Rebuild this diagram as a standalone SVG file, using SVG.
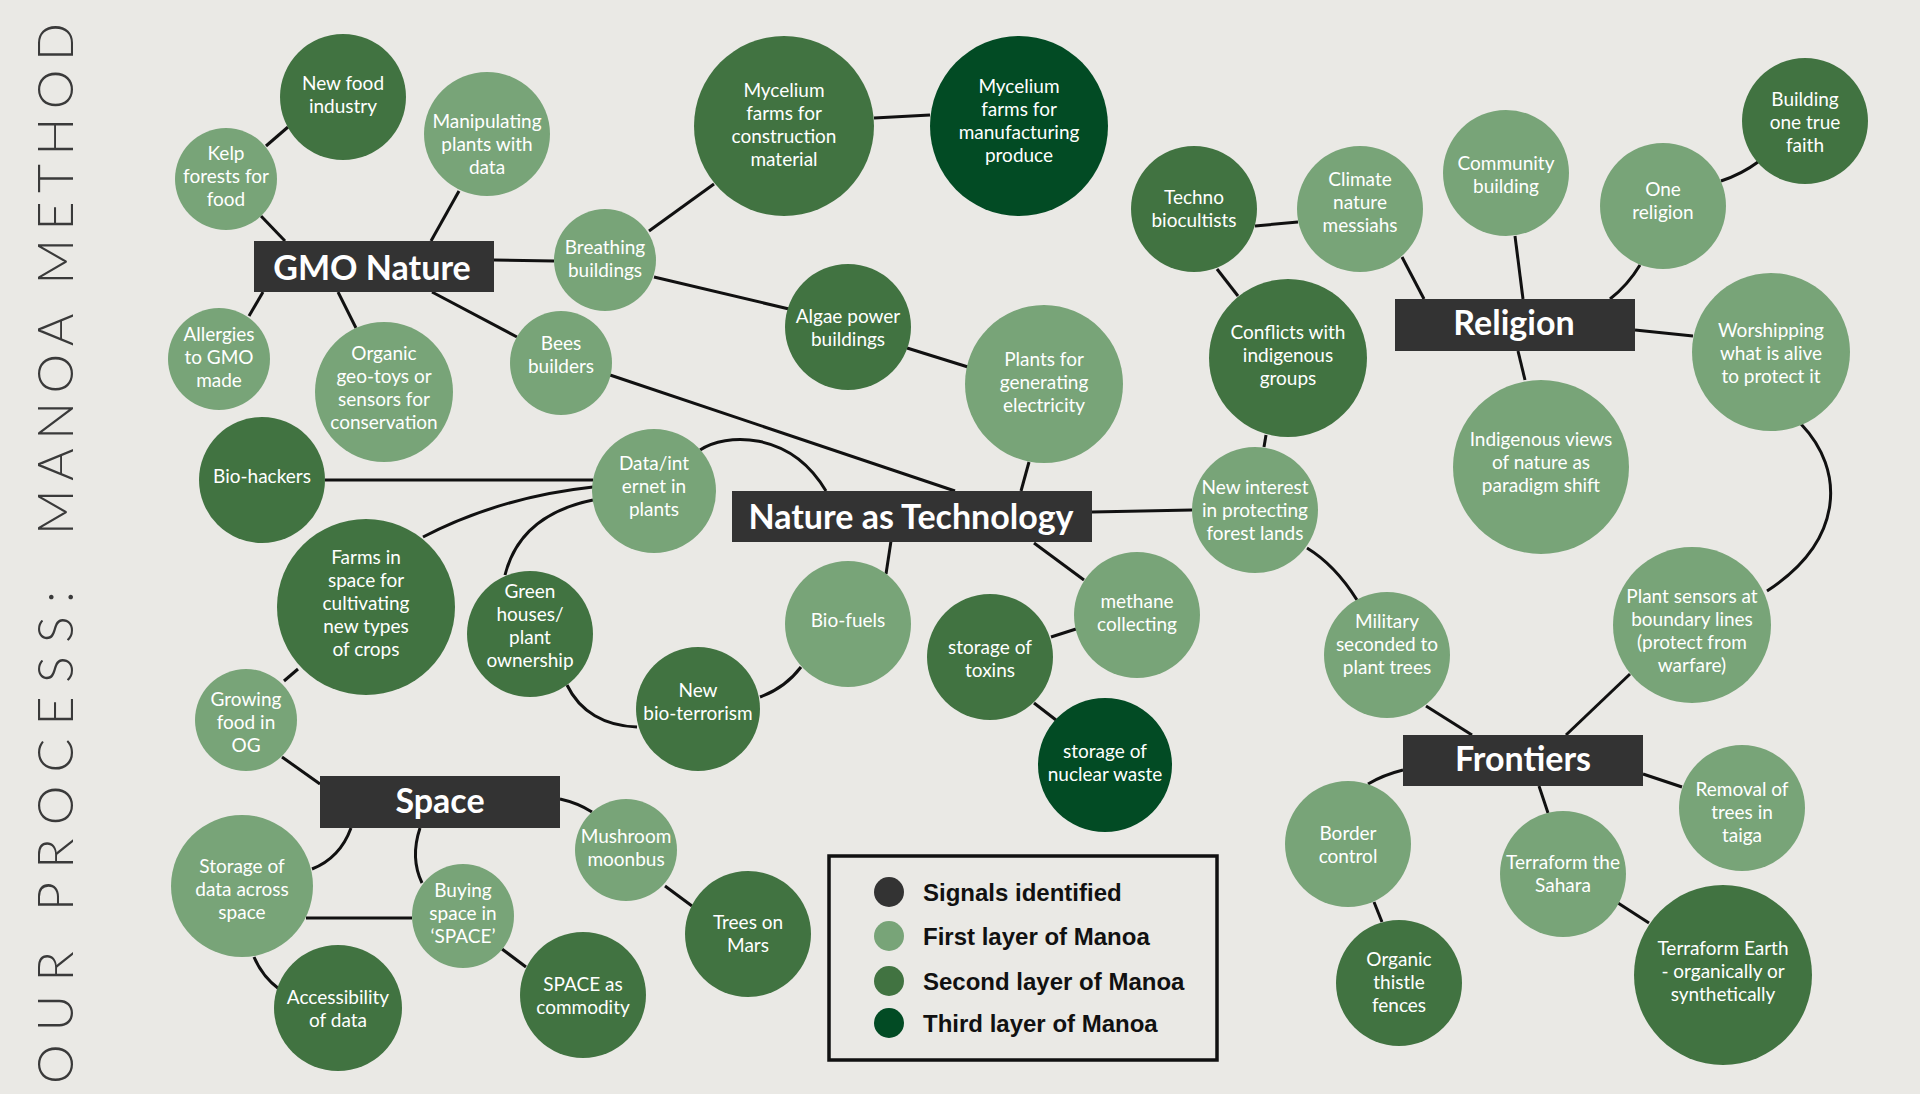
<svg xmlns="http://www.w3.org/2000/svg" width="1920" height="1094" viewBox="0 0 1920 1094">
<style>
.l{fill:#78a478}
.m{fill:#417341}
.d{fill:#024b24}
.t{font-family:Lato,"Open Sans","DejaVu Sans",sans-serif;font-size:19px;fill:#ffffff;text-anchor:middle}
.box{fill:#333333}
.bt{font-family:Lato,"Open Sans","DejaVu Sans",sans-serif;font-weight:700;font-size:34px;fill:#ffffff;text-anchor:middle}
.c{fill:none;stroke:#111111;stroke-width:3}
.lg{font-family:"Liberation Sans",Arial,sans-serif;font-weight:700;font-size:24px;fill:#111111}
.title{font-family:Lato,"Open Sans","DejaVu Sans",sans-serif;font-weight:300;font-size:50px;fill:#3a3a3a}
</style>
<rect x="0" y="0" width="1920" height="1094" fill="#eae9e5"/>

<g id="title">
<text class="title" transform="translate(73,1084) rotate(-90)" x="0" y="0" textLength="493" lengthAdjust="spacing">OUR PROCESS:</text>
<text class="title" transform="translate(73,535) rotate(-90)" x="0" y="0" textLength="512" lengthAdjust="spacing">MANOA METHOD</text>
</g>

<g id="connectors" class="c">
<path d="M266,146 L288,127"/>
<path d="M261,216 L285,241"/>
<path d="M459,191 L431,241"/>
<path d="M494,260 L554,261"/>
<path d="M263,292 L249,316"/>
<path d="M338,292 L356,328"/>
<path d="M432,292 L517,337"/>
<path d="M610,375 L955,491"/>
<path d="M649,231 L714,184"/>
<path d="M874,118 L930,115"/>
<path d="M654,277 L789,309"/>
<path d="M907,348 L968,367"/>
<path d="M1029,462 L1021,491"/>
<path d="M700,450 C725,433 790,430 826,491"/>
<path d="M1092,512 L1192,510"/>
<path d="M891,541 L886,574"/>
<path d="M1034,543 L1084,580"/>
<path d="M1076,629 L1051,637"/>
<path d="M1034,703 L1056,720"/>
<path d="M801,667 Q785,688 760,697"/>
<path d="M567,685 C580,712 605,726 637,727"/>
<path d="M325,480 L593,480"/>
<path d="M593,487 Q500,497 423,537"/>
<path d="M593,500 Q520,515 505,575"/>
<path d="M298,669 L284,681"/>
<path d="M282,757 L320,784"/>
<path d="M351,828 Q340,858 312,869"/>
<path d="M420,828 Q410,858 422,883"/>
<path d="M306,918 L412,918"/>
<path d="M254,957 Q262,976 279,989"/>
<path d="M502,949 L526,967"/>
<path d="M560,799 Q578,803 592,812"/>
<path d="M665,886 L692,906"/>
<path d="M1255,226 L1298,222"/>
<path d="M1217,269 L1238,296"/>
<path d="M1266,435 L1264,447"/>
<path d="M1402,257 L1424,299"/>
<path d="M1515,236 L1523,299"/>
<path d="M1640,265 Q1628,285 1610,299"/>
<path d="M1721,181 Q1742,174 1758,162"/>
<path d="M1635,330 L1693,336"/>
<path d="M1518,351 L1525,380"/>
<path d="M1801,424 C1845,470 1845,540 1767,591"/>
<path d="M1307,548 Q1335,565 1357,600"/>
<path d="M1426,706 L1472,735"/>
<path d="M1630,674 L1566,735"/>
<path d="M1403,770 Q1383,775 1368,784"/>
<path d="M1643,774 L1682,787"/>
<path d="M1539,786 L1548,813"/>
<path d="M1374,902 L1382,922"/>
<path d="M1618,903 L1649,923"/>
</g>

<g id="gmo-nature"><rect class="box" x="254" y="241" width="240" height="51"/><text class="bt" x="372" y="280">GMO Nature</text></g>
<g id="nature-as-technology"><rect class="box" x="732" y="491" width="360" height="51"/><text class="bt" x="911" y="529">Nature as Technology</text></g>
<g id="religion"><rect class="box" x="1395" y="299" width="240" height="52"/><text class="bt" x="1514" y="335">Religion</text></g>
<g id="space"><rect class="box" x="320" y="776" width="240" height="52"/><text class="bt" x="440" y="813">Space</text></g>
<g id="frontiers"><rect class="box" x="1403" y="735" width="240" height="51"/><text class="bt" x="1523" y="771">Frontiers</text></g>

<g id="new-food-industry"><ellipse class="m" cx="343" cy="97" rx="63" ry="63"/><text class="t"><tspan x="343" y="90">New food</tspan><tspan x="343" y="113">industry</tspan></text></g>
<g id="kelp-forests"><ellipse class="l" cx="226" cy="179" rx="51" ry="51"/><text class="t"><tspan x="226" y="160">Kelp</tspan><tspan x="226" y="183">forests for</tspan><tspan x="226" y="206">food</tspan></text></g>
<g id="manipulating-plants"><ellipse class="l" cx="487" cy="134" rx="63" ry="62"/><text class="t"><tspan x="487" y="128">Manipulating</tspan><tspan x="487" y="151">plants with</tspan><tspan x="487" y="174">data</tspan></text></g>
<g id="breathing-buildings"><ellipse class="l" cx="605" cy="260" rx="51" ry="51"/><text class="t"><tspan x="605" y="254">Breathing</tspan><tspan x="605" y="277">buildings</tspan></text></g>
<g id="allergies"><ellipse class="l" cx="219" cy="359" rx="51" ry="51"/><text class="t"><tspan x="219" y="341">Allergies</tspan><tspan x="219" y="364">to GMO</tspan><tspan x="219" y="387">made</tspan></text></g>
<g id="organic-geo-toys"><ellipse class="l" cx="384" cy="392" rx="69" ry="70"/><text class="t"><tspan x="384" y="360">Organic</tspan><tspan x="384" y="383">geo-toys or</tspan><tspan x="384" y="406">sensors for</tspan><tspan x="384" y="429">conservation</tspan></text></g>
<g id="bees-builders"><ellipse class="l" cx="561" cy="363" rx="51" ry="52"/><text class="t"><tspan x="561" y="350">Bees</tspan><tspan x="561" y="373">builders</tspan></text></g>
<g id="bio-hackers"><ellipse class="m" cx="262" cy="480" rx="63" ry="63"/><text class="t"><tspan x="262" y="483">Bio-hackers</tspan></text></g>
<g id="mycelium-construction"><ellipse class="m" cx="784" cy="126" rx="90" ry="90"/><text class="t"><tspan x="784" y="97">Mycelium</tspan><tspan x="784" y="120">farms for</tspan><tspan x="784" y="143">construction</tspan><tspan x="784" y="166">material</tspan></text></g>
<g id="mycelium-manufacturing"><ellipse class="d" cx="1019" cy="126" rx="89" ry="90"/><text class="t"><tspan x="1019" y="93">Mycelium</tspan><tspan x="1019" y="116">farms for</tspan><tspan x="1019" y="139">manufacturing</tspan><tspan x="1019" y="162">produce</tspan></text></g>
<g id="algae-power"><ellipse class="m" cx="848" cy="327" rx="63" ry="63"/><text class="t"><tspan x="848" y="323">Algae power</tspan><tspan x="848" y="346">buildings</tspan></text></g>
<g id="plants-electricity"><ellipse class="l" cx="1044" cy="384" rx="79" ry="79"/><text class="t"><tspan x="1044" y="366">Plants for</tspan><tspan x="1044" y="389">generating</tspan><tspan x="1044" y="412">electricity</tspan></text></g>
<g id="data-internet"><ellipse class="l" cx="654" cy="491" rx="62" ry="62"/><text class="t"><tspan x="654" y="470">Data/int</tspan><tspan x="654" y="493">ernet in</tspan><tspan x="654" y="516">plants</tspan></text></g>
<g id="techno-biocultists"><ellipse class="m" cx="1194" cy="209" rx="63" ry="63"/><text class="t"><tspan x="1194" y="204">Techno</tspan><tspan x="1194" y="227">biocultists</tspan></text></g>
<g id="climate-messiahs"><ellipse class="l" cx="1360" cy="209" rx="63" ry="63"/><text class="t"><tspan x="1360" y="186">Climate</tspan><tspan x="1360" y="209">nature</tspan><tspan x="1360" y="232">messiahs</tspan></text></g>
<g id="community-building"><ellipse class="l" cx="1506" cy="173" rx="63" ry="63"/><text class="t"><tspan x="1506" y="170">Community</tspan><tspan x="1506" y="193">building</tspan></text></g>
<g id="one-religion"><ellipse class="l" cx="1663" cy="206" rx="63" ry="63"/><text class="t"><tspan x="1663" y="196">One</tspan><tspan x="1663" y="219">religion</tspan></text></g>
<g id="building-one-true-faith"><ellipse class="m" cx="1805" cy="121" rx="63" ry="63"/><text class="t"><tspan x="1805" y="106">Building</tspan><tspan x="1805" y="129">one true</tspan><tspan x="1805" y="152">faith</tspan></text></g>
<g id="worshipping"><ellipse class="l" cx="1771" cy="352" rx="79" ry="79"/><text class="t"><tspan x="1771" y="337">Worshipping</tspan><tspan x="1771" y="360">what is alive</tspan><tspan x="1771" y="383">to protect it</tspan></text></g>
<g id="indigenous-views"><ellipse class="l" cx="1541" cy="467" rx="88" ry="87"/><text class="t"><tspan x="1541" y="446">Indigenous views</tspan><tspan x="1541" y="469">of nature as</tspan><tspan x="1541" y="492">paradigm shift</tspan></text></g>
<g id="conflicts-indigenous"><ellipse class="m" cx="1288" cy="358" rx="79" ry="79"/><text class="t"><tspan x="1288" y="339">Conflicts with</tspan><tspan x="1288" y="362">indigenous</tspan><tspan x="1288" y="385">groups</tspan></text></g>
<g id="new-interest-forest"><ellipse class="l" cx="1255" cy="510" rx="63" ry="63"/><text class="t"><tspan x="1255" y="494">New interest</tspan><tspan x="1255" y="517">in protecting</tspan><tspan x="1255" y="540">forest lands</tspan></text></g>
<g id="methane-collecting"><ellipse class="l" cx="1137" cy="615" rx="63" ry="63"/><text class="t"><tspan x="1137" y="608">methane</tspan><tspan x="1137" y="631">collecting</tspan></text></g>
<g id="storage-toxins"><ellipse class="m" cx="990" cy="657" rx="63" ry="63"/><text class="t"><tspan x="990" y="654">storage of</tspan><tspan x="990" y="677">toxins</tspan></text></g>
<g id="storage-nuclear"><ellipse class="d" cx="1105" cy="765" rx="67" ry="67"/><text class="t"><tspan x="1105" y="758">storage of</tspan><tspan x="1105" y="781">nuclear waste</tspan></text></g>
<g id="military-trees"><ellipse class="l" cx="1387" cy="655" rx="63" ry="63"/><text class="t"><tspan x="1387" y="628">Military</tspan><tspan x="1387" y="651">seconded to</tspan><tspan x="1387" y="674">plant trees</tspan></text></g>
<g id="bio-fuels"><ellipse class="l" cx="848" cy="624" rx="63" ry="63"/><text class="t"><tspan x="848" y="627">Bio-fuels</tspan></text></g>
<g id="bio-terrorism"><ellipse class="m" cx="698" cy="709" rx="62" ry="62"/><text class="t"><tspan x="698" y="697">New</tspan><tspan x="698" y="720">bio-terrorism</tspan></text></g>
<g id="farms-in-space"><ellipse class="m" cx="366" cy="607" rx="89" ry="88"/><text class="t"><tspan x="366" y="564">Farms in</tspan><tspan x="366" y="587">space for</tspan><tspan x="366" y="610">cultivating</tspan><tspan x="366" y="633">new types</tspan><tspan x="366" y="656">of crops</tspan></text></g>
<g id="green-houses"><ellipse class="m" cx="530" cy="634" rx="63" ry="63"/><text class="t"><tspan x="530" y="598">Green</tspan><tspan x="530" y="621">houses/</tspan><tspan x="530" y="644">plant</tspan><tspan x="530" y="667">ownership</tspan></text></g>
<g id="growing-food"><ellipse class="l" cx="246" cy="720" rx="51" ry="51"/><text class="t"><tspan x="246" y="706">Growing</tspan><tspan x="246" y="729">food in</tspan><tspan x="246" y="752">OG</tspan></text></g>
<g id="storage-data"><ellipse class="l" cx="242" cy="886" rx="71" ry="71"/><text class="t"><tspan x="242" y="873">Storage of</tspan><tspan x="242" y="896">data across</tspan><tspan x="242" y="919">space</tspan></text></g>
<g id="buying-space"><ellipse class="l" cx="463" cy="916" rx="51" ry="52"/><text class="t"><tspan x="463" y="897">Buying</tspan><tspan x="463" y="920">space in</tspan><tspan x="463" y="943">‘SPACE’</tspan></text></g>
<g id="accessibility"><ellipse class="m" cx="338" cy="1008" rx="64" ry="63"/><text class="t"><tspan x="338" y="1004">Accessibility</tspan><tspan x="338" y="1027">of data</tspan></text></g>
<g id="space-commodity"><ellipse class="m" cx="583" cy="995" rx="63" ry="63"/><text class="t"><tspan x="583" y="991">SPACE as</tspan><tspan x="583" y="1014">commodity</tspan></text></g>
<g id="mushroom-moonbus"><ellipse class="l" cx="626" cy="850" rx="51" ry="51"/><text class="t"><tspan x="626" y="843">Mushroom</tspan><tspan x="626" y="866">moonbus</tspan></text></g>
<g id="trees-mars"><ellipse class="m" cx="748" cy="934" rx="63" ry="63"/><text class="t"><tspan x="748" y="929">Trees on</tspan><tspan x="748" y="952">Mars</tspan></text></g>
<g id="plant-sensors"><ellipse class="l" cx="1692" cy="625" rx="79" ry="78"/><text class="t"><tspan x="1692" y="603">Plant sensors at</tspan><tspan x="1692" y="626">boundary lines</tspan><tspan x="1692" y="649">(protect from</tspan><tspan x="1692" y="672">warfare)</tspan></text></g>
<g id="removal-taiga"><ellipse class="l" cx="1742" cy="808" rx="63" ry="63"/><text class="t"><tspan x="1742" y="796">Removal of</tspan><tspan x="1742" y="819">trees in</tspan><tspan x="1742" y="842">taiga</tspan></text></g>
<g id="border-control"><ellipse class="l" cx="1348" cy="844" rx="63" ry="63"/><text class="t"><tspan x="1348" y="840">Border</tspan><tspan x="1348" y="863">control</tspan></text></g>
<g id="terraform-sahara"><ellipse class="l" cx="1563" cy="874" rx="63" ry="63"/><text class="t"><tspan x="1563" y="869">Terraform the</tspan><tspan x="1563" y="892">Sahara</tspan></text></g>
<g id="organic-thistle"><ellipse class="m" cx="1399" cy="983" rx="63" ry="63"/><text class="t"><tspan x="1399" y="966">Organic</tspan><tspan x="1399" y="989">thistle</tspan><tspan x="1399" y="1012">fences</tspan></text></g>
<g id="terraform-earth"><ellipse class="m" cx="1723" cy="975" rx="89" ry="90"/><text class="t"><tspan x="1723" y="955">Terraform Earth</tspan><tspan x="1723" y="978">- organically or</tspan><tspan x="1723" y="1001">synthetically</tspan></text></g>

<g id="legend">
<rect x="829" y="856" width="388" height="204" fill="none" stroke="#111111" stroke-width="3.5"/>
<circle cx="889" cy="892" r="15" fill="#333333"/>
<circle cx="889" cy="936" r="15" class="l"/>
<circle cx="889" cy="981" r="15" class="m"/>
<circle cx="889" cy="1023" r="15" class="d"/>
<text class="lg" x="923" y="901">Signals identified</text>
<text class="lg" x="923" y="945">First layer of Manoa</text>
<text class="lg" x="923" y="990">Second layer of Manoa</text>
<text class="lg" x="923" y="1032">Third layer of Manoa</text>
</g>
</svg>
